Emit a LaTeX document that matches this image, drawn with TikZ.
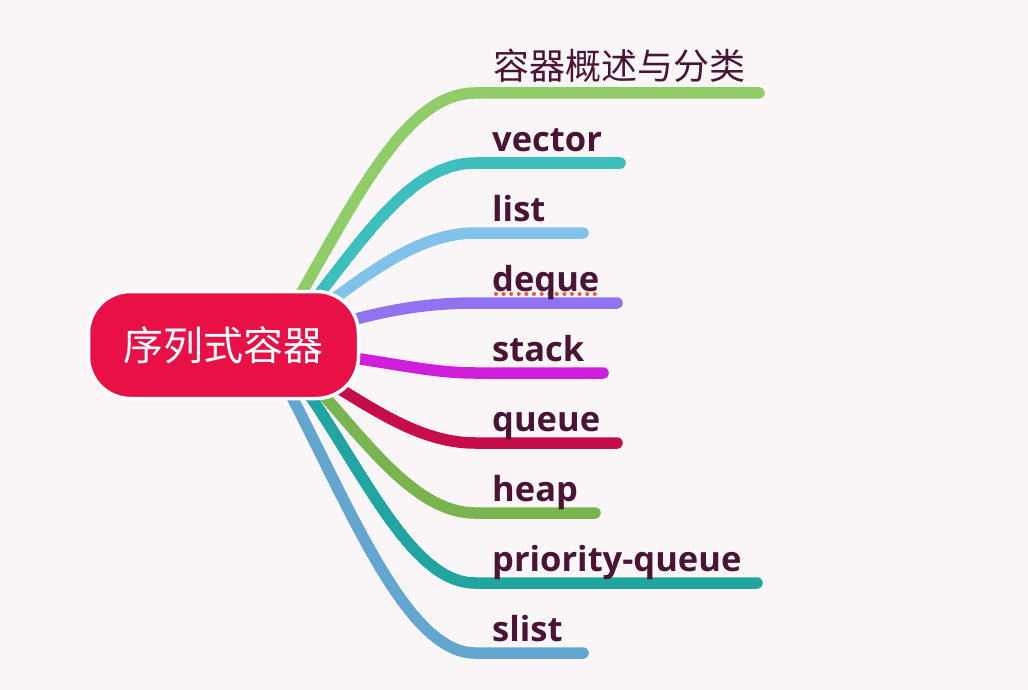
\documentclass[tikz,border=0pt]{standalone}
\usepackage{fontspec}
\setmainfont{Open Sans}
\newfontfamily\cjk{Noto Sans CJK SC}
\definecolor{bg}{HTML}{FBF7F9}
\definecolor{rootred}{HTML}{E81047}
\definecolor{txt}{HTML}{4A1535}
\definecolor{cA}{HTML}{90CD68}
\definecolor{cB}{HTML}{3CBFBD}
\definecolor{cC}{HTML}{80C2EA}
\definecolor{cD}{HTML}{9172F2}
\definecolor{cE}{HTML}{D01FDC}
\definecolor{cF}{HTML}{C60D4A}
\definecolor{cG}{HTML}{79B44F}
\definecolor{cH}{HTML}{20A5A1}
\definecolor{cI}{HTML}{63A6D0}
\definecolor{spell}{HTML}{F0573A}
\begin{document}
\begin{tikzpicture}[x=1pt,y=-1pt,
  branch/.style={line width=11.5pt, line cap=round, line join=round},
  lbl/.style={anchor=base west, inner sep=0pt, text=txt, font=\bfseries\fontsize{34.5}{40}\selectfont},
  cjklbl/.style={anchor=base west, inner sep=0pt, text=txt, font=\cjk\fontsize{36}{40}\selectfont},
  rootbox/.style={draw=white, line width=3.5pt, fill=rootred, rounded corners=42pt,
    minimum width=270pt, minimum height=107pt, inner sep=0pt, text=white,
    font=\cjk\fontsize{40}{44}\selectfont}]
\fill[bg] (0,0) rectangle (1028,690);
\useasboundingbox (0,0) rectangle (1028,690);

% start and end points
\coordinate (s1) at (287,318); \coordinate (e1) at (759,93);
\coordinate (s2) at (302,316); \coordinate (e2) at (620,163);
\coordinate (s3) at (310,317); \coordinate (e3) at (583,233);
\coordinate (s4) at (330,326); \coordinate (e4) at (617,303);
\coordinate (s5) at (330,355); \coordinate (e5) at (603,373);
\coordinate (s6) at (322,378); \coordinate (e6) at (617,443);
\coordinate (s7) at (310,380); \coordinate (e7) at (595,513);
\coordinate (s8) at (297,377); \coordinate (e8) at (757,583);
\coordinate (s9) at (283,380); \coordinate (e9) at (583,653);

\draw[branch,cA] (s1) .. controls (355,201) and (405,93) .. (475,93) -- (e1);
\draw[branch,cB] (s2) .. controls (362,241) and (410,163) .. (475,163) -- (e2);
\draw[branch,cC] (s3) .. controls (369,272) and (420,233) .. (475,233) -- (e3);
\draw[branch,cD] (s4) .. controls (380,312) and (420,303) .. (475,303) -- (e4);
\draw[branch,cE] (s5) .. controls (390,362) and (430,373) .. (475,373) -- (e5);
\draw[branch,cF] (s6) .. controls (372,408) and (420,443) .. (475,443) -- (e6);
\draw[branch,cG] (s7) .. controls (365,440) and (415,513) .. (475,513) -- (e7);
\draw[branch,cH] (s8) .. controls (362,467) and (410,583) .. (475,583) -- (e8);
\draw[branch,cI] (s9) .. controls (347,500) and (405,653) .. (475,653) -- (e9);

% spell-check dots under deque
\coordinate (d1) at (496,294); \coordinate (d2) at (602,294);
\draw[spell, line width=4pt, line cap=round, dash pattern=on 0pt off 7.6pt] (d1) -- (d2);

% labels
\node[cjklbl] (t1) at (493,80) {容器概述与分类};
\node[lbl] (t2) at (492,151.5) {vector};
\node[lbl] (t3) at (492,221.5) {list};
\node[lbl] (t4) at (492,291) {deque};
\node[lbl] (t5) at (492,361.5) {stack};
\node[lbl] (t6) at (492,431.5) {queue};
\node[lbl] (t7) at (492,501.5) {heap};
\node[lbl] (t8) at (492,571.5) {priority-queue};
\node[lbl] (t9) at (492,641.5) {slist};

% root
\node[rootbox] (root) at (223.5,345) {序列式容器};
\end{tikzpicture}
\end{document}
